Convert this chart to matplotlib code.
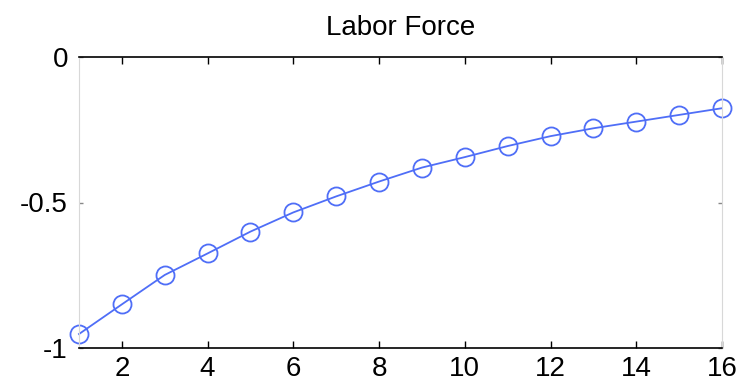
import numpy as np
import matplotlib
matplotlib.use('Agg')
import matplotlib.pyplot as plt

# impulse response, labor force
horizon = [1, 2, 3, 4, 5, 6, 7, 8, 9, 10, 11, 12, 13, 14, 15, 16]
labor_force = [-0.952, -0.850, -0.749, -0.675, -0.600, -0.534, -0.479, -0.428,
               -0.380, -0.344, -0.306, -0.272, -0.245, -0.222, -0.199, -0.176]
xticks = [2, 4, 6, 8, 10, 12, 14, 16]
yticks = [-1, -0.5, 0]
yticklabels = ['-1', '-0.5', '0']

plt.rcParams['font.family'] = 'Liberation Sans'

fig = plt.figure(figsize=(7.46, 3.86), dpi=100)
ax = fig.add_axes([79/746, 1 - 348/386, (722-79)/746, (348-57)/386])

col = '#4f6ef7'
ax.plot(horizon, labor_force, '-', color=col, lw=1.3,
        marker='o', ms=13, mfc='none', mec=col, mew=1.3, clip_on=False)

ax.set_xlim(1, 16)
ax.set_ylim(-1, 0)
ax.set_xticks(xticks)
ax.set_yticks(yticks)
ax.set_yticklabels(yticklabels)

for s in ['top', 'bottom']:
    ax.spines[s].set_color('black')
    ax.spines[s].set_linewidth(1.2)
for s in ['left', 'right']:
    ax.spines[s].set_color('#d8d8d8')
    ax.spines[s].set_linewidth(0.8)

ax.tick_params(axis='x', direction='in', top=True, length=5, width=1,
               labelsize=20, pad=6)
ax.tick_params(axis='y', direction='in', right=True, length=3, width=1,
               color='#888888', labelsize=20, pad=8)

ax.set_title('Labor Force', fontsize=20, pad=16)

fig.savefig('out.png', dpi=100)
